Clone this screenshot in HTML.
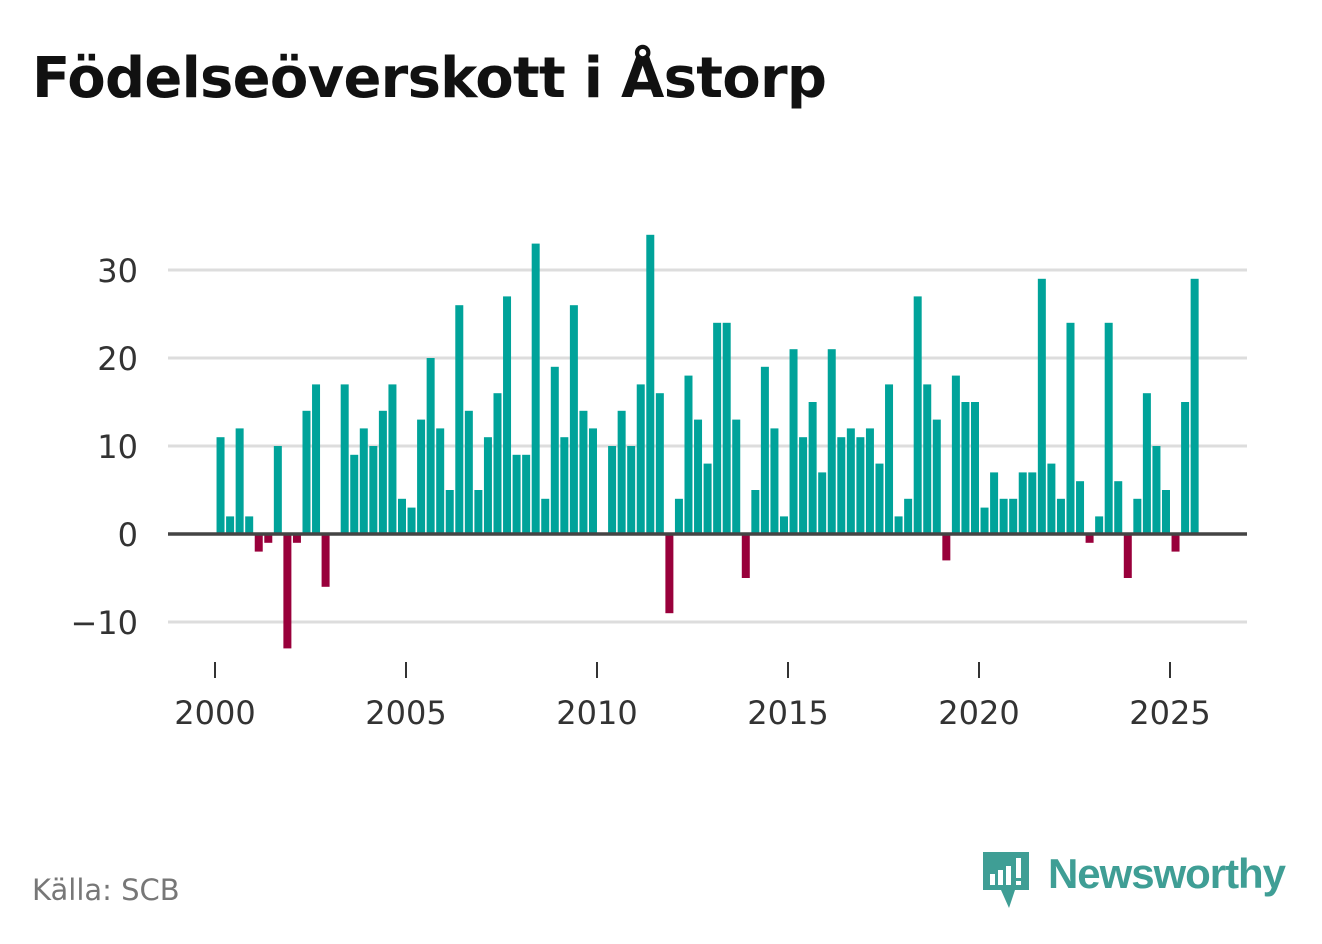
<!DOCTYPE html>
<html><head><meta charset="utf-8"><style>
body{margin:0;background:#fff;width:1322px;height:939px;overflow:hidden;font-family:"Liberation Sans","DejaVu Sans",sans-serif}
</style></head><body>
<svg width="1322" height="939" xmlns="http://www.w3.org/2000/svg">
<text x="32" y="97" font-size="56" font-weight="bold" fill="#111" font-family="DejaVu Sans, sans-serif" textLength="795">Födelseöverskott i Åstorp</text>
<g id="grid"></g><g id="bars"></g><g id="axes"></g>
<text x="32" y="900" font-size="29" fill="#777" font-family="DejaVu Sans, sans-serif">Källa: SCB</text>
<g>
<path d="M983 852 h46 v38 h-14 l-6 18 l-8 -18 h-18 z" fill="#3f9e95"/>
<rect x="990" y="874" width="5" height="11" fill="#fff"/><rect x="998" y="870" width="5" height="15" fill="#fff"/><rect x="1006" y="866" width="5" height="19" fill="#fff"/><rect x="1016" y="858" width="5" height="20" fill="#fff"/><rect x="1016" y="881" width="5" height="4" fill="#fff"/>
<text x="1048" y="888" font-size="42" font-weight="bold" fill="#3f9e95" font-family="Liberation Sans, sans-serif" textLength="238">Newsworthy</text>
</g>
</svg>
<script>
const startYear = 2000;
const values = [11,2,12,2,-2,-1,10,-13,-1,14,17,-6,0,17,9,12,10,14,17,4,3,13,20,12,5,26,14,5,11,16,27,9,9,33,4,19,11,26,14,12,0,10,14,10,17,34,16,-9,4,18,13,8,24,24,13,-5,5,19,12,2,21,11,15,7,21,11,12,11,12,8,17,2,4,27,17,13,-3,18,15,15,3,7,4,4,7,7,29,8,4,24,6,-1,2,24,6,-5,4,16,10,5,-2,15,29];
const yTicks = [-10,0,10,20,30];
const xTicks = [2000,2005,2010,2015,2020,2025];
const NS='http://www.w3.org/2000/svg';
const X = t => 215 + (t-2000)*38.2;
const Y = v => 534 - v*8.8;
function mk(tag,a,p){const e=document.createElementNS(NS,tag);for(const k in a)e.setAttribute(k,a[k]);p.appendChild(e);return e;}
const grid=document.getElementById('grid'), bars=document.getElementById('bars'), axes=document.getElementById('axes');
yTicks.forEach(v=>{
 if(v!==0){const l=mk('line',{x1:168,x2:1247,y1:Y(v),y2:Y(v),stroke:'#ddd','stroke-width':3},grid);
 
 }
 const t=mk('text',{x:138,y:Y(v)+12,'text-anchor':'end','font-size':32,fill:'#333','font-family':'DejaVu Sans, sans-serif'},axes);
 t.textContent=(v<0?'\u2212'+Math.abs(v):v);
 
 
});
values.forEach((v,i)=>{
 const cx=X(startYear+(i+0.5)/4+0.02);
 const r=mk('rect',{x:cx-4,y:Math.min(Y(v),Y(0)),width:8,height:Math.abs(Y(v)-Y(0)),fill:v>=0?'#00a39a':'#99003b'},bars);
 
 
});
const z=mk('line',{x1:168,x2:1247,y1:Y(0),y2:Y(0),stroke:'#444','stroke-width':3.5},axes);


xTicks.forEach(y=>{
 const l=mk('line',{x1:X(y),x2:X(y),y1:662,y2:678,stroke:'#333','stroke-width':2},axes);
 
 
 const t=mk('text',{x:X(y),y:724,'text-anchor':'middle','font-size':32,fill:'#333','font-family':'DejaVu Sans, sans-serif'},axes);
 t.textContent=y;
 
 
});
</script>
</body></html>
